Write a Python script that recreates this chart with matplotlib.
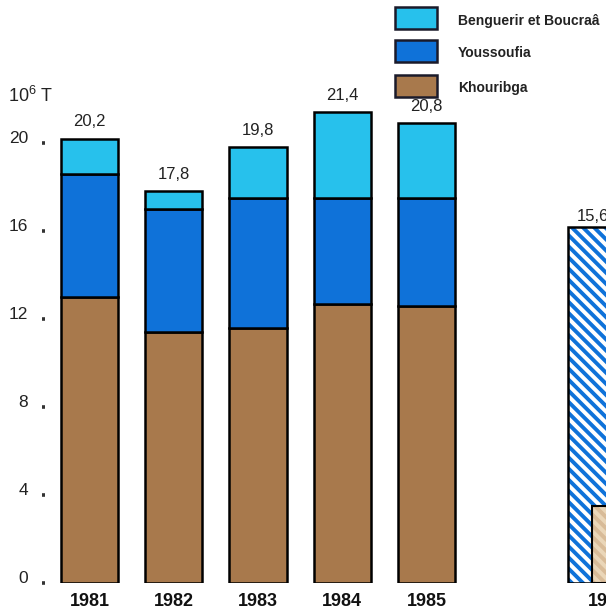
import matplotlib
matplotlib.use('Agg')
import matplotlib.pyplot as plt
from matplotlib.patches import Rectangle

# Data (10^6 tonnes)
years = ['1981', '1982', '1983', '1984', '1985']
khouribga = [13.0, 11.4, 11.6, 12.7, 12.6]
youssoufia = [5.6, 5.6, 5.9, 4.8, 4.9]
benguerir = [1.6, 0.8, 2.3, 3.9, 3.4]
total_labels = ['20,2', '17,8', '19,8', '21,4', '20,8']

# second (cut off) chart on the right
right_year = '1985'
right_total = 16.2
right_total_label = '15,6'
right_inner = 3.5

yticks = [0, 4, 8, 12, 16, 20]
legend_names = ['Benguerir et Boucraâ', 'Youssoufia', 'Khouribga']

col_cyan = '#27c1ec'
col_blue = '#0f72d9'
col_brown = '#a8794c'

plt.rcParams['font.family'] = 'Liberation Sans'
plt.rcParams['mathtext.fontset'] = 'custom'
plt.rcParams['mathtext.rm'] = 'Liberation Sans'
plt.rcParams['hatch.linewidth'] = 2.8

W, H = 606, 612
fig = plt.figure(figsize=(W / 100, H / 100), dpi=100)

# axes placed in pixels: zero line at y=583, 22 px per unit, bars every 84.25 px
x0_px, step_px = 89.5, 84.25
xlim = (-0.528, 7.0)
ax_left = x0_px + xlim[0] * step_px
ax_right = x0_px + xlim[1] * step_px
ax = fig.add_axes([ax_left / W, (H - 583) / H, (ax_right - ax_left) / W, 24 * 22 / H])
ax.set_xlim(*xlim)
ax.set_ylim(0, 24)

x = list(range(len(years)))
bw = 0.68
bottom2 = [k + y for k, y in zip(khouribga, youssoufia)]
ax.bar(x, khouribga, bw, color=col_brown, edgecolor='black', linewidth=1.8)
ax.bar(x, youssoufia, bw, bottom=khouribga, color=col_blue, edgecolor='black', linewidth=1.8)
ax.bar(x, benguerir, bw, bottom=bottom2, color=col_cyan, edgecolor='black', linewidth=1.8)

for xi, k, b, lab in zip(x, bottom2, benguerir, total_labels):
    ax.annotate(lab, xy=(xi, k + b), xytext=(0, 9), textcoords='offset points',
                ha='center', va='baseline', fontsize=12, color='#222222')

# partial hatched chart at the right edge
ax.bar(5.68, right_total, 0.95, align='edge', color='white', edgecolor=col_blue,
       hatch='\\\\\\', linewidth=0)
ax.bar(5.68, right_total, 0.95, align='edge', color='none', edgecolor='black', linewidth=1.8)
ax.bar(5.964, right_inner, 0.6, align='edge', color='#ead6b8', edgecolor='#d8bb98',
       hatch='\\\\\\', linewidth=0)
ax.bar(5.964, right_inner, 0.6, align='edge', color='none', edgecolor='black', linewidth=1.5)
ax.annotate(right_total_label, xy=(5.68 + 0.29, right_total), xytext=(0, 4),
            textcoords='offset points', ha='center', va='baseline', fontsize=12, color='#222222')

# axes styling
for s in ax.spines.values():
    s.set_visible(False)
ax.set_yticks(yticks)
ax.set_yticklabels([str(v) for v in yticks])
ax.tick_params(axis='y', direction='out', length=2, width=2.6, pad=10,
               labelsize=12.5, color='#333333', labelcolor='#222222')
for t in ax.get_yticklabels():
    t.set_verticalalignment('baseline')

ax.set_xticks(x + [6.15])
ax.set_xticklabels(years + [right_year], fontweight='bold', fontsize=13)
ax.tick_params(axis='x', length=0, pad=7, labelcolor='#111111')

fig.text(8 / W, 1 - 102 / H, r'10$^6$ T', fontsize=13, color='#222222')

# legend drawn by hand in the upper right corner
box_y = [7, 40, 75]
text_y = [21, 53, 88]
for name, col, by, ty in zip(legend_names, [col_cyan, col_blue, col_brown], box_y, text_y):
    fig.add_artist(Rectangle((395 / W, 1 - (by + 22) / H), 42 / W, 22 / H,
                             transform=fig.transFigure, facecolor=col,
                             edgecolor='#1a1a2a', linewidth=1.8))
    fig.text(458 / W, 1 - ty / H, name, fontsize=10, fontweight='bold',
             va='center', ha='left', color='#222222')

fig.savefig('out.png', dpi=100)
